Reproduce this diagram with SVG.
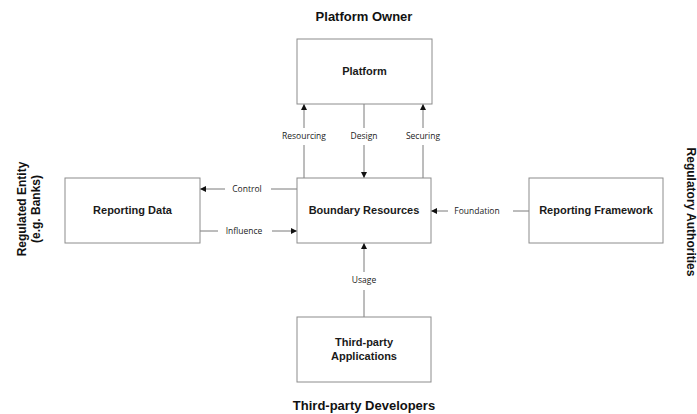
<svg xmlns="http://www.w3.org/2000/svg" width="697" height="414" viewBox="0 0 697 414">
  <style>
    .box { fill: #ffffff; stroke: #8c8c8c; stroke-width: 1; }
    .node-label { font-family: "Liberation Sans", Arial, sans-serif; font-size: 11px; font-weight: bold; fill: #1a1a1a; text-anchor: middle; }
    .role { font-family: "Liberation Sans", Arial, sans-serif; font-size: 13px; font-weight: bold; fill: #111111; text-anchor: middle; }
    .role-side { font-family: "Liberation Sans", Arial, sans-serif; font-size: 12px; font-weight: bold; fill: #111111; text-anchor: middle; }
    .edge { stroke: #7a7a7a; stroke-width: 1; fill: none; }
    .edge-label { font-family: "Open Sans", "Liberation Sans", sans-serif; font-size: 8.5px; fill: #222222; text-anchor: middle; }
  </style>
  <defs>
    <marker id="arrow" viewBox="0 0 10 10" refX="10" refY="5" markerWidth="6" markerHeight="6" orient="auto" markerUnits="userSpaceOnUse">
      <path d="M0,0 L10,5 L0,10 z" fill="#111111"/>
    </marker>
  </defs>
  <rect width="697" height="414" fill="#ffffff"/>

  <!-- stakeholder roles -->
  <text class="role" x="364" y="21">Platform Owner</text>
  <text class="role" x="364" y="410">Third-party Developers</text>
  <text class="role-side" transform="translate(26,209) rotate(-90)">Regulated Entity</text>
  <text class="role-side" transform="translate(40,209) rotate(-90)">(e.g. Banks)</text>
  <text class="role-side" transform="translate(687,212) rotate(90)">Regulatory Authorities</text>

  <!-- connectors -->
  <g id="connectors">
    <!-- Resourcing -->
    <line class="edge" x1="304" y1="178" x2="304" y2="145"/>
    <line class="edge" x1="304" y1="128" x2="304" y2="104" marker-end="url(#arrow)"/>
    <text class="edge-label" x="304" y="139">Resourcing</text>
    <!-- Design -->
    <line class="edge" x1="364" y1="104" x2="364" y2="128"/>
    <line class="edge" x1="364" y1="145" x2="364" y2="178" marker-end="url(#arrow)"/>
    <text class="edge-label" x="364" y="139">Design</text>
    <!-- Securing -->
    <line class="edge" x1="423" y1="178" x2="423" y2="145"/>
    <line class="edge" x1="423" y1="128" x2="423" y2="104" marker-end="url(#arrow)"/>
    <text class="edge-label" x="423" y="139">Securing</text>
    <!-- Control -->
    <line class="edge" x1="297" y1="189" x2="271" y2="189"/>
    <line class="edge" x1="225" y1="189" x2="200" y2="189" marker-end="url(#arrow)"/>
    <text class="edge-label" x="247" y="192">Control</text>
    <!-- Influence -->
    <line class="edge" x1="200" y1="231" x2="218" y2="231"/>
    <line class="edge" x1="272" y1="231" x2="297" y2="231" marker-end="url(#arrow)"/>
    <text class="edge-label" x="244" y="234">Influence</text>
    <!-- Foundation -->
    <line class="edge" x1="529" y1="211" x2="513" y2="211"/>
    <line class="edge" x1="448" y1="211" x2="431" y2="211" marker-end="url(#arrow)"/>
    <text class="edge-label" x="477" y="214">Foundation</text>
    <!-- Usage -->
    <line class="edge" x1="364" y1="317" x2="364" y2="290"/>
    <line class="edge" x1="364" y1="272" x2="364" y2="243" marker-end="url(#arrow)"/>
    <text class="edge-label" x="364" y="283">Usage</text>
  </g>

  <!-- nodes -->
  <g id="platform">
    <rect class="box" x="297" y="39" width="135" height="65"/>
    <text class="node-label" x="364.5" y="75">Platform</text>
  </g>
  <g id="boundary-resources">
    <rect class="box" x="297" y="178" width="134" height="65"/>
    <text class="node-label" x="364" y="214">Boundary Resources</text>
  </g>
  <g id="reporting-data">
    <rect class="box" x="65" y="178" width="135" height="65"/>
    <text class="node-label" x="132.5" y="214">Reporting Data</text>
  </g>
  <g id="reporting-framework">
    <rect class="box" x="529" y="178" width="134" height="65"/>
    <text class="node-label" x="596" y="214">Reporting Framework</text>
  </g>
  <g id="third-party-applications">
    <rect class="box" x="297" y="317" width="134" height="65"/>
    <text class="node-label" x="364" y="346">Third-party</text>
    <text class="node-label" x="364" y="360">Applications</text>
  </g>
</svg>
